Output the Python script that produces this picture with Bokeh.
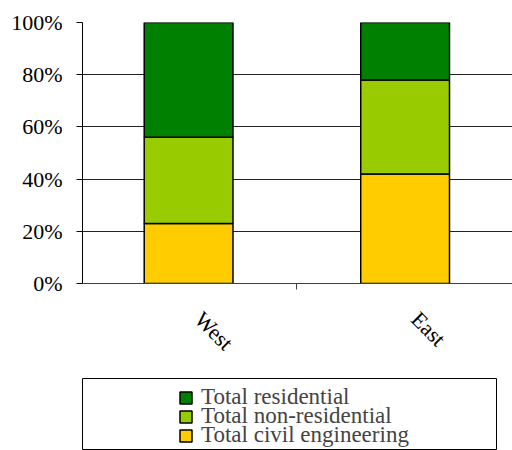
import numpy as np
from bokeh.plotting import figure
from bokeh.models import (ColumnDataSource, FixedTicker, PrintfTickFormatter,
                          Range1d, Legend, LegendItem)
from bokeh.layouts import column
from bokeh.embed import file_html
from bokeh.resources import INLINE

regions = ["West", "East"]
civil = [23, 42]
non_residential = [33, 36]
residential = [44, 22]
series_names = ["Total civil engineering", "Total non-residential", "Total residential"]
series_colors = ["#FFCC00", "#99CC00", "#008000"]
y_ticks = [0, 20, 40, 60, 80, 100]

FONT = "Liberation Serif"

x_pos = list(np.arange(len(regions)) + 0.5)
source = ColumnDataSource(dict(x=x_pos, civil=civil, nonres=non_residential, res=residential))
stackers = ["civil", "nonres", "res"]

p = figure(width=512, height=378, output_backend="svg", toolbar_location=None,
           x_range=Range1d(0.01, 1.996), y_range=Range1d(0, 100),
           min_border_left=79, min_border_right=0, min_border_top=22, min_border_bottom=95)
p.outline_line_color = None

p.vbar_stack(stackers, x="x", width=0.41, source=source,
             fill_color=series_colors, line_color="black", line_width=1.5)

# y axis
p.yaxis.ticker = FixedTicker(ticks=y_ticks)
p.yaxis.formatter = PrintfTickFormatter(format="%d%%")
p.yaxis.axis_line_color = "black"
p.yaxis.major_tick_line_color = "black"
p.yaxis.major_tick_in = 0
p.yaxis.major_tick_out = 6
p.yaxis.minor_tick_line_color = None
p.yaxis.major_label_standoff = 14
p.yaxis.major_label_text_font = FONT
p.yaxis.major_label_text_font_size = "22px"
p.yaxis.major_label_text_color = "black"

# x axis (labels slightly offset as in the original rotated labels)
label_ticks = [x + 0.046 for x in x_pos]
p.xaxis.ticker = FixedTicker(ticks=label_ticks, minor_ticks=[1.0])
p.xaxis.major_label_overrides = {t: r for t, r in zip(label_ticks, regions)}
p.xaxis.axis_line_color = "#404040"
p.xaxis.major_tick_line_color = None
p.xaxis.major_tick_out = 6
p.xaxis.major_tick_in = 0
p.xaxis.minor_tick_line_color = "#404040"
p.xaxis.minor_tick_out = 6
p.xaxis.minor_tick_in = 0
p.xaxis.major_label_orientation = -np.pi / 4
p.xaxis.major_label_standoff = 26
p.xaxis.major_label_text_font = FONT
p.xaxis.major_label_text_font_size = "22px"
p.xaxis.major_label_text_color = "black"

p.xgrid.grid_line_color = None
p.ygrid.ticker = FixedTicker(ticks=y_ticks[1:])
p.ygrid.grid_line_color = "#222222"
p.ygrid.grid_line_width = 1

# legend box figure
lg = figure(width=497, height=72, output_backend="svg", toolbar_location=None,
            x_axis_type=None, y_axis_type=None,
            x_range=Range1d(0, 1), y_range=Range1d(0, 1),
            min_border_left=82, min_border_right=0, min_border_top=0, min_border_bottom=1)
lg.outline_line_color = "black"
lg.outline_line_width = 1
lg.xgrid.visible = False
lg.ygrid.visible = False

rs = lg.vbar_stack(stackers, x="x", width=0.41, source=source,
                   fill_color=series_colors, line_color="black", line_width=1.5,
                   visible=False)

# one legend per row so that rows can sit tighter than the font's line box
row_step = 19
first_bottom = 39
for i, (name, r) in enumerate(reversed(list(zip(series_names, rs)))):
    leg = Legend(items=[LegendItem(label=name, renderers=[r])],
                 location=(96, first_bottom - i * row_step), margin=0, padding=0,
                 glyph_width=15, glyph_height=15, label_standoff=8,
                 label_text_font=FONT, label_text_font_size="23px",
                 border_line_color=None, background_fill_alpha=0)
    lg.add_layout(leg, "center")

layout = column(p, lg, spacing=0)
open("out.html", "w").write(file_html(layout, INLINE))
